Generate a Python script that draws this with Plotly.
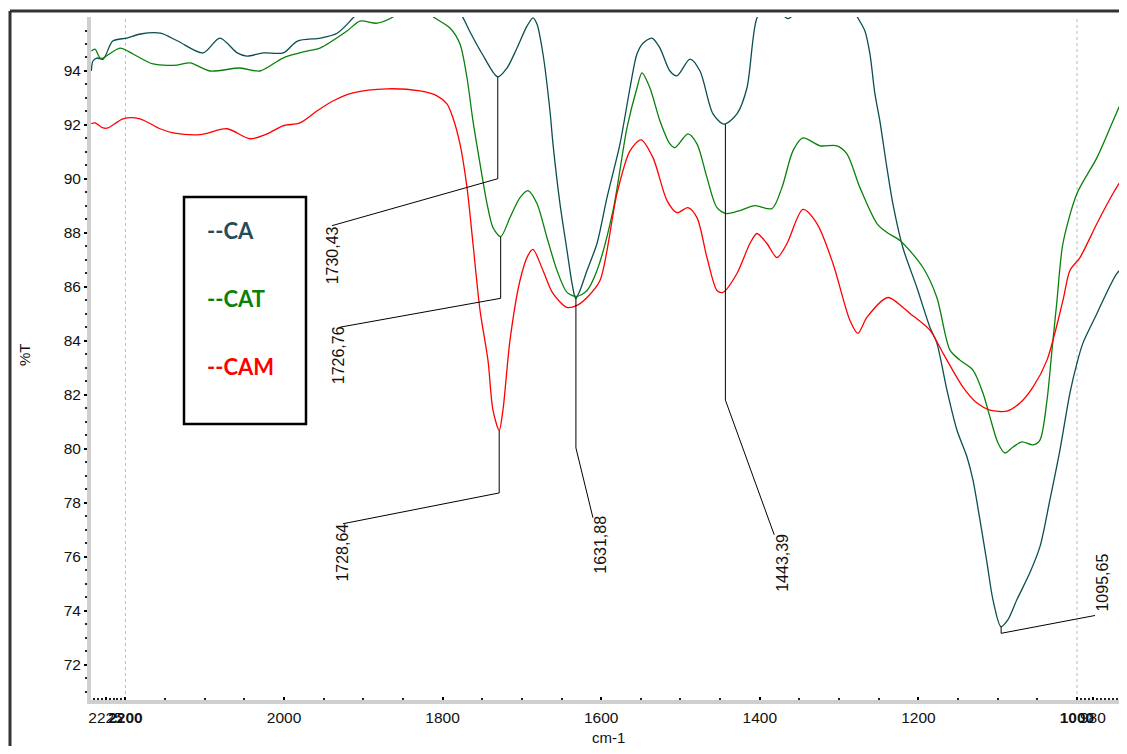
import plotly.graph_objects as go

# ---------------- data (wavenumber cm-1, %T) ----------------
ca_wn = [2243, 2241, 2236, 2228, 2216, 2198, 2181, 2156, 2134, 2102, 2081, 2059, 2047, 2026, 2001,
         1983, 1954, 1933, 1913, 1892, 1857, 1817, 1787, 1774, 1766, 1750, 1730.4, 1718.8, 1706.2,
         1693.6, 1686.0, 1681.0, 1673.4, 1664.6, 1660.8, 1652.0, 1643.1, 1636.8, 1633.0, 1631.9,
         1626.7, 1617.9, 1605.3, 1592.7, 1576.3, 1563.7, 1554.9, 1547.3, 1535.9, 1525.9, 1513.3,
         1504.4, 1488.0, 1475.4, 1459.0, 1445.0, 1428.8, 1416.2, 1403.6, 1390, 1378, 1364.4, 1350,
         1320, 1290, 1276.2, 1267.4, 1261.1, 1254.8, 1248.6, 1239.7, 1232.2, 1219.6, 1201.9, 1185.5,
         1176.7, 1164.0, 1151.4, 1138.7, 1131.2, 1122.4, 1113.5, 1106.0, 1095.9, 1087.0, 1075.7,
         1059.3, 1046.7, 1034.1, 1021.5, 1008.9, 1000.0, 992.5, 974.8, 967.2, 949.6, 937.0]
ca_t = [94.00, 94.37, 94.48, 94.44, 95.11, 95.22, 95.37, 95.40, 95.11, 94.67, 95.22, 94.67, 94.55, 94.67, 94.67,
        95.11, 95.22, 95.40, 95.96, 96.6, 97.1, 97.0, 96.5, 95.96, 95.48, 94.63, 93.78, 94.11, 94.85,
        95.66, 95.97, 95.74, 94.63, 92.52, 91.30, 89.09, 87.35, 86.13, 85.61, 85.58,
        85.87, 86.61, 87.61, 89.31, 91.30, 93.37, 94.63, 95.03, 95.22, 94.85, 94.00,
        93.82, 94.44, 94.00, 92.41, 92.03, 92.41, 93.37, 95.96, 96.5, 96.3, 95.94, 96.3,
        96.9, 96.6, 95.96, 95.48, 94.63, 93.15, 92.15, 90.42, 89.09, 87.46, 85.98, 84.51,
        83.92, 82.18, 80.70, 79.70, 78.85, 77.38, 75.79, 74.42, 73.42, 73.68, 74.42,
        75.42, 76.38, 78.12, 79.96, 82.07, 83.18, 83.92, 85.02, 85.50, 86.50, 86.87]

cat_wn = [2243, 2238.3, 2232.0, 2228.2, 2206.8, 2190.4, 2165.2, 2134.9, 2118.5, 2093.3, 2055.5, 2030.3,
          2001.3, 1971.0, 1954.6, 1920.6, 1904.2, 1882.7, 1862.5, 1845, 1825, 1809.6, 1790.7, 1778.1,
          1769.2, 1761.7, 1752.8, 1744.0, 1736.5, 1726.8, 1715.0, 1702.4, 1692.3, 1681.0, 1668.4,
          1655.7, 1643.1, 1630.5, 1617.9, 1605.3, 1585.1, 1567.5, 1554.9, 1548.6, 1538.5, 1525.9,
          1513.3, 1506.9, 1490.6, 1479.2, 1466.6, 1454.0, 1441.4, 1425.0, 1406.1, 1384.7, 1372.1,
          1358.2, 1345.6, 1324.2, 1302.7, 1290.1, 1273.7, 1252.3, 1239.7, 1223.2, 1194.2, 1176.7,
          1160.2, 1147.6, 1131.2, 1118.6, 1109.7, 1099.6, 1090.8, 1080.7, 1069.4, 1055.5, 1046.7,
          1037.8, 1031.5, 1025.2, 1017.7, 1000.0, 974.8, 954.6, 937.0]
cat_t = [94.74, 94.81, 94.48, 94.48, 94.85, 94.63, 94.26, 94.22, 94.30, 94.00, 94.11, 94.00,
         94.48, 94.74, 94.85, 95.48, 95.85, 95.77, 96.00, 96.4, 96.3, 95.96, 95.59, 95.00,
         93.74, 92.15, 90.56, 89.09, 88.20, 87.86, 88.57, 89.31, 89.57, 89.09, 87.83,
         86.61, 85.80, 85.65, 85.87, 86.61, 88.83, 91.89, 93.37, 93.93, 93.37, 92.15,
         91.30, 91.16, 91.67, 91.30, 90.05, 88.94, 88.72, 88.83, 89.01, 88.90, 89.68,
         91.04, 91.52, 91.23, 91.23, 90.93, 89.68, 88.35, 88.02, 87.72, 86.72, 85.61,
         83.66, 83.29, 82.92, 82.07, 81.18, 80.22, 79.85, 80.07, 80.26, 80.15, 80.33,
         81.81, 83.66, 85.50, 87.61, 89.46, 90.79, 92.15, 93.34]

cam_wn = [2243, 2238.3, 2228.2, 2221.9, 2203.0, 2181.6, 2156.4, 2140.0, 2105.9, 2071.9, 2042.9, 2021.4,
          2001.3, 1979.8, 1958.4, 1938.2, 1913.0, 1870.1, 1828.5, 1807.1, 1794.5, 1786.9, 1778.1,
          1769.2, 1761.7, 1752.8, 1742.8, 1736.5, 1728.6, 1723.9, 1715.0, 1702.4, 1692.3, 1686.0,
          1673.4, 1660.8, 1643.1, 1630.5, 1617.9, 1601.5, 1580.1, 1563.7, 1549.8, 1534.7, 1517.0,
          1504.4, 1490.6, 1479.2, 1466.6, 1454.0, 1446.4, 1428.8, 1412.4, 1403.6, 1391.0, 1378.3,
          1365.7, 1345.6, 1327.9, 1307.7, 1286.3, 1276.2, 1264.8, 1238.4, 1219.4, 1210.6, 1185.5,
          1169.0, 1143.8, 1126.1, 1109.7, 1088.3, 1071.9, 1055.5, 1037.8, 1017.7, 1008.9, 996.2,
          974.8, 954.6, 937.0]
cam_t = [92.05, 92.08, 91.89, 91.89, 92.23, 92.23, 91.86, 91.71, 91.64, 91.86, 91.49, 91.67,
         91.97, 92.08, 92.52, 92.89, 93.19, 93.34, 93.26, 93.08, 92.78, 92.26, 91.30,
         89.68, 87.61, 85.13, 83.29, 81.44, 80.69, 81.44, 84.03, 86.24, 87.17, 87.39,
         86.61, 85.76, 85.24, 85.32, 85.61, 86.24, 89.46, 91.04, 91.45, 90.79, 89.20,
         88.75, 88.94, 88.57, 87.09, 85.87, 85.80, 86.50, 87.61, 87.98, 87.61, 87.09,
         87.61, 88.87, 88.35, 86.87, 84.76, 84.28, 84.88, 85.61, 85.24, 85.02, 84.40,
         83.55, 82.29, 81.70, 81.44, 81.40, 81.70, 82.29, 83.29, 85.50, 86.61, 87.09,
         88.35, 89.46, 90.31]

# peak annotations
peak_labels = ["1730,43", "1726,76", "1728,64", "1631,88", "1443,39", "1095,65"]
peak_wn = [1730.43, 1726.76, 1728.64, 1631.88, 1443.39, 1095.65]
peak_t = [93.78, 87.86, 80.69, 85.60, 92.03, 73.42]
elbow_t = [90.01, 85.58, 78.37, 80.04, 81.81, 73.17]
end_wn = [1939.5, 1929.4, 1925.6, 1610.4, 1381.8, 977.3]
end_t = [88.27, 84.51, 77.23, 77.45, 76.82, 73.83]
text_wn = [1939.5, 1931.9, 1925.6, 1600.3, 1371.7, 967.2]
text_t = [87.17, 83.47, 76.16, 76.45, 75.79, 75.05]

# axis ticks
x_tickvals = [2225, 2200, 2000, 1800, 1600, 1400, 1200, 1000, 980]
x_ticktext = ["2225", "<b>2200</b>", "2000", "1800", "1600", "1400", "1200", "<b>1000</b>", "980"]
x_minor = [2240, 2235, 2230, 2220, 2215, 2210, 2205, 2150, 2100, 2050, 1950, 1900, 1850, 1750, 1700,
           1650, 1550, 1500, 1450, 1350, 1300, 1250, 1150, 1100, 1050, 995, 990, 985, 975, 970, 965,
           960, 955, 950]
y_tickvals = [72, 74, 76, 78, 80, 82, 84, 86, 88, 90, 92, 94]
y_minor = [v / 2 for v in range(142, 192) if v % 4 != 0]

series_names = ["CA", "CAT", "CAM"]
series_colors = ["#0b4f4f", "#0a800a", "#ff0000"]
legend_colors = ["#264b5c", "#0a800a", "#ff0000"]

# ---------------- figure ----------------
# plot area: 1028 px wide (fig x 83..1111), 683 px tall (fig y 9..692)
PW, PH = 1028.0, 683.0
fig = go.Figure()
for name, xs, ys, col in zip(series_names, [ca_wn, cat_wn, cam_wn], [ca_t, cat_t, cam_t], series_colors):
    fig.add_trace(go.Scatter(x=xs, y=ys, mode="lines", name=name,
                             line=dict(color=col, width=1.3, shape="spline", smoothing=0.8),
                             showlegend=False, hoverinfo="skip"))

# leader lines
lx, ly = [], []
for i in range(len(peak_wn)):
    lx += [peak_wn[i], peak_wn[i], end_wn[i], None]
    ly += [peak_t[i], elbow_t[i], end_t[i], None]
fig.add_trace(go.Scatter(x=lx, y=ly, mode="lines", line=dict(color="black", width=1),
                         showlegend=False, hoverinfo="skip"))

for lab, xw, yt in zip(peak_labels, text_wn, text_t):
    fig.add_annotation(x=xw, y=yt, xref="x", yref="y", text=lab, showarrow=False,
                       textangle=-90, xanchor="center", yanchor="middle",
                       font=dict(family="Liberation Sans, Arial", size=16, color="#111"))

# dotted reference lines
for xv in [2200, 1000]:
    fig.add_shape(type="line", xref="x", yref="paper", x0=xv, x1=xv, y0=0, y1=1,
                  line=dict(color="#bbbbbb", width=1, dash="dot"), layer="below")

def px(xp):
    return (xp - 91) / PW

def py(yp):
    return (700 - yp) / PH

# legend box
fig.add_shape(type="rect", xref="paper", yref="paper", x0=px(184), x1=px(306), y0=py(424), y1=py(197),
              line=dict(color="black", width=2.5), fillcolor="rgba(0,0,0,0)")
for name, col, yp in zip(series_names, legend_colors, [230, 298, 366]):
    fig.add_annotation(x=px(205), y=py(yp), xref="paper", yref="paper", text="<b>--" + name + "</b>",
                       showarrow=False, xanchor="left", yanchor="middle",
                       font=dict(family="Lato, Open Sans", size=22, color=col))

# outer frame (top and left edges visible)
fig.add_shape(type="line", xref="paper", yref="paper", x0=px(10), x1=px(1140), y0=py(11), y1=py(11),
              line=dict(color="#333333", width=3))
fig.add_shape(type="line", xref="paper", yref="paper", x0=px(10), x1=px(10), y0=py(780), y1=py(11),
              line=dict(color="#333333", width=3))

# axis titles
fig.add_annotation(x=px(25), y=py(355), xref="paper", yref="paper", text="%T", showarrow=False,
                   textangle=-90, xanchor="center", yanchor="middle",
                   font=dict(family="Liberation Sans, Arial", size=15, color="#111"))
fig.add_annotation(x=px(608), y=py(737), xref="paper", yref="paper", text="cm-1", showarrow=False,
                   xanchor="center", yanchor="middle",
                   font=dict(family="Liberation Sans, Arial", size=15, color="#111"))

fig.update_layout(
    width=1111, height=738,
    margin=dict(l=83, r=0, t=9, b=46, autoexpand=False),
    paper_bgcolor="white", plot_bgcolor="white",
    font=dict(family="Liberation Sans, Arial", size=15, color="#111"),
    xaxis=dict(range=[2243.4, 947.0], showgrid=False, zeroline=False, automargin=False,
               tickmode="array", tickvals=x_tickvals, ticktext=x_ticktext, tickangle=0,
               ticks="inside", ticklen=3, tickwidth=1.5, tickcolor="black",
               showline=True, linecolor="#cfcfcf", linewidth=4,
               tickfont=dict(size=15.5, color="#111"),
               minor=dict(tickvals=x_minor, ticks="inside", ticklen=2, tickwidth=1.5, tickcolor="#222")),
    yaxis=dict(range=[70.7, 96.0], showgrid=False, zeroline=False, automargin=False,
               tickmode="array", tickvals=y_tickvals,
               ticks="outside", ticklen=3, tickwidth=1.5, tickcolor="black",
               showline=True, linecolor="#cfcfcf", linewidth=4,
               tickfont=dict(size=15.5, color="#111"),
               minor=dict(tickvals=y_minor, ticks="outside", ticklen=2, tickwidth=1.5, tickcolor="#222")),
)

fig.write_html("out.html")
